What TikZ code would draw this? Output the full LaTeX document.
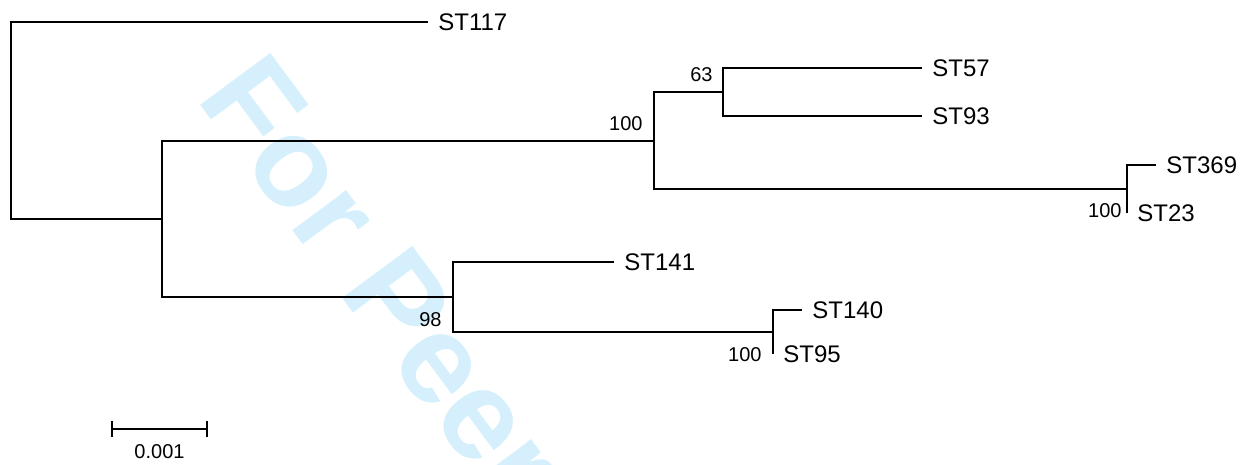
\documentclass[tikz,border=0pt]{standalone}
\usepackage{fontspec}
\setmainfont{Liberation Sans}
\usetikzlibrary{positioning,arrows.meta}
\definecolor{wmblue}{RGB}{213,240,252}

\begin{document}
\begin{tikzpicture}[x=0.5pt,y=-0.5pt,
  br/.style={line width=1pt},
  leaf/.style={anchor=west,inner sep=0pt,font=\fontsize{12}{14}\selectfont},
  boot/.style={inner sep=0pt,font=\fontsize{10}{12}\selectfont}]
\useasboundingbox (0,0) rectangle (1250,465);
% watermark
\begin{scope}
\clip (0,0) rectangle (1250,465);
\node[rotate=-53.5,anchor=base west,inner sep=0pt,text=wmblue,
  font=\fontsize{63.5}{70}\selectfont\bfseries] (wm) at (195,98) {For Peer};
\end{scope}
% inner nodes
\coordinate (r) at (11,120);
\coordinate (a) at (162,219);
\coordinate (b) at (654,141);
\coordinate (c) at (723,92);
\coordinate (d) at (1127,189);
\coordinate (e) at (453,297);
\coordinate (f) at (773,332);
% branch tips
\coordinate (t117) at (428,22);
\coordinate (t57) at (922,68);
\coordinate (t93) at (922,116);
\coordinate (t369) at (1156,165);
\coordinate (t23) at (1127,213);
\coordinate (t141) at (614,262);
\coordinate (t140) at (802,310);
\coordinate (t95) at (773,354);
% branches
\draw[br] (t117) -| (r) |- (a);
\draw[br] (b) -| (a) |- (e);
\draw[br] (c) -| (b) |- (d);
\draw[br] (t57) -| (c) |- (t93);
\draw[br] (t369) -| (d) |- (t23);
\draw[br] (t141) -| (e) |- (f);
\draw[br] (t140) -| (f) |- (t95);
% taxa
\node[leaf,right=5pt of t117] (ST117) {ST117};
\node[leaf,right=5pt of t57] (ST57) {ST57};
\node[leaf,right=5pt of t93] (ST93) {ST93};
\node[leaf,right=5pt of t369] (ST369) {ST369};
\node[leaf,right=5pt of t23] (ST23) {ST23};
\node[leaf,right=5pt of t141] (ST141) {ST141};
\node[leaf,right=5pt of t140] (ST140) {ST140};
\node[leaf,right=5pt of t95] (ST95) {ST95};
% bootstrap
\node[boot,above left=5pt and 5.5pt of b] (bb) {100};
\node[boot,above left=5pt and 5pt of c] (bc) {63};
\node[boot,below left=7pt and 2.5pt of d] (bd) {100};
\node[boot,below left=7.5pt and 5.5pt of e] (be) {98};
\node[boot,below left=7.5pt and 5.5pt of f] (bf) {100};
% scale bar
\coordinate (s0) at (111,429);
\coordinate (s1) at (208,429);
\draw[br,{Bar[width=8pt]}-{Bar[width=8pt]}] (s0) -- node[boot,below=7.5pt] (sc) {0.001} (s1);
\end{tikzpicture}
\end{document}
